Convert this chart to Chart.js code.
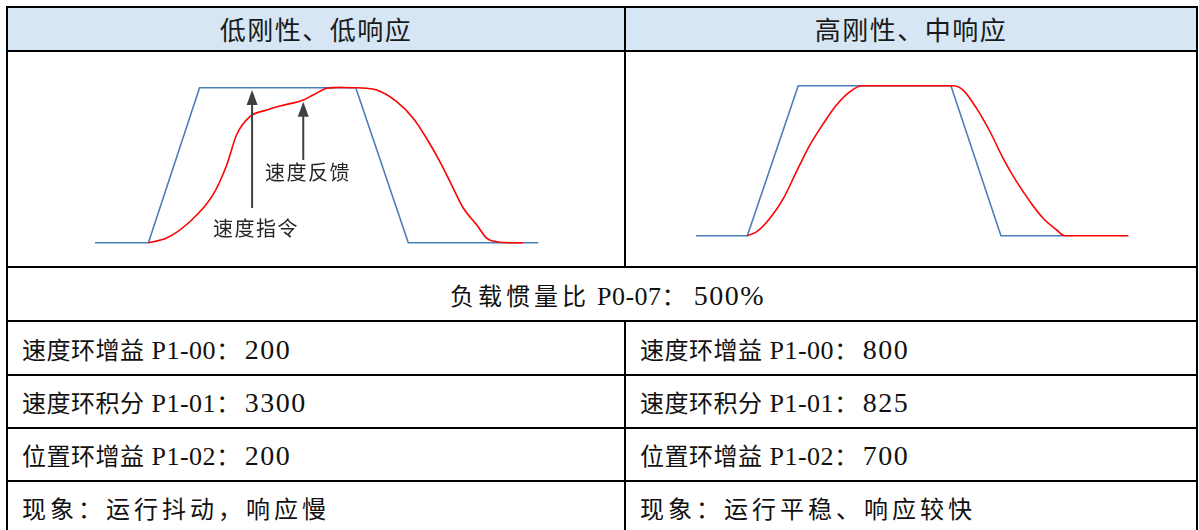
<!DOCTYPE html>
<html><head><meta charset="utf-8">
<script src="https://cdn.jsdelivr.net/npm/chart.js@4/dist/chart.umd.min.js"></script>
<style>
html,body{margin:0;padding:0;background:#fff;}
body{width:1199px;height:530px;position:relative;overflow:hidden;}
.ln{position:absolute;background:#000;}
.cell{position:absolute;box-sizing:border-box;white-space:pre;}
.hd{display:flex;align-items:center;background:#D6E6F4;justify-content:center;font-family:"Noto Sans CJK SC",sans-serif;font-size:26px;letter-spacing:1.5px;color:#1a1a1a;}
.tx{font-family:"Noto Sans CJK SC",sans-serif;font-size:24px;letter-spacing:0.5px;color:#111;}
.code{font-family:"Liberation Serif","Times New Roman",serif;font-size:26px;letter-spacing:0.5px;}
.val{font-family:"Liberation Serif","Times New Roman",serif;font-size:28px;letter-spacing:1.5px;margin-left:4px;}
canvas{position:absolute;}
</style></head><body>
<div id="root"></div>
<script>
// ---- table texts ----
const headers = ['低刚性、低响应', '高刚性、中响应'];
const sharedRow = '负载惯量比 P0-07：500%';
const leftRows = ['速度环增益 P1-00：200', '速度环积分 P1-01：3300', '位置环增益 P1-02：200', '现象：运行抖动，响应慢'];
const rightRows = ['速度环增益 P1-00：800', '速度环积分 P1-01：825', '位置环增益 P1-02：700', '现象：运行平稳、响应较快'];

// ---- left chart (low stiffness) : time (%), speed (%) ----
const leftCmdT = [0, 12, 23.5, 58.6, 70.4, 99.6];
const leftCmdV = [0, 0, 100, 100, 0, 0];
const leftFbT = [12, 16.1, 21.3, 26.5, 29.6, 31.8, 34.8, 38.6, 41.6, 46.8, 49, 52.1, 55.1, 58.8, 63.3, 67.8, 71.5, 74.5, 77.5, 80.5, 82.8, 85.8, 88, 90.3, 93.9, 96.2];
const leftFbV = [0, 3, 13.5, 30.8, 50.1, 69.5, 81.3, 85.6, 88.2, 92.1, 95.3, 99.6, 100.3, 100, 98.5, 91, 80.3, 67.4, 52.3, 35.1, 22.2, 11.4, 3, 0.6, 0, 0];
const leftLabels = ['速度指令', '速度反馈'];
const leftLabelT = [26.5, 38.2];
const leftLabelV = [9.5, 45.6];
const leftArrowT = [35.3, 46.8];
const leftArrowFromV = [22.4, 53.4];
const leftArrowToV = [98.5, 91];

// ---- right chart (high stiffness) ----
const rightCmdT = [0, 11.8, 23.5, 58.6, 70.1, 84.8];
const rightCmdV = [0, 0, 100, 100, 0, 0];
const rightFbT = [11.8, 14, 17, 20.1, 23.1, 26.2, 29.3, 32.3, 35.4, 38.1, 59.1, 61.4, 64.5, 67.6, 70.6, 73.7, 76.8, 79.8, 82.9, 84.8, 99.4];
const rightFbV = [0, 2.7, 11.6, 24.9, 42.7, 60.5, 74.9, 87.1, 96, 100, 100, 97.1, 84.9, 69.3, 51.6, 36, 22.7, 11.6, 3.8, 0, 0];

const root = document.getElementById('root');
function line(l, t, w, h) { const d = document.createElement('div'); d.className = 'ln'; Object.assign(d.style, {left: l+'px', top: t+'px', width: w+'px', height: h+'px'}); root.appendChild(d); }
function fillText(d, text) {
  text.split(/([\x20-\x7E]+)/).forEach((part, i) => {
    if (!part) return;
    if (i % 2 === 1) { const s = document.createElement('span'); s.className = /^\s*P/.test(part) ? 'code' : 'val'; s.textContent = part; d.appendChild(s); }
    else d.appendChild(document.createTextNode(part));
  });
}
function cell(cls, l, t, w, h, text, extra) {
  const d = document.createElement('div'); d.className = 'cell ' + cls;
  Object.assign(d.style, {left: l+'px', top: t+'px', width: w+'px', height: h+'px', lineHeight: h+'px'}, extra || {});
  if (cls === 'hd') d.textContent = text; else fillText(d, text);
  root.appendChild(d);
}

// header
cell('hd', 7, 7, 618, 44, headers[0]);
cell('hd', 625, 7, 572, 44, headers[1]);
cell('tx', 7, 268, 1190, 53, sharedRow, {paddingLeft: '443px', letterSpacing: '4px'});
const rowTops = [322, 375, 428, 481];
for (let i = 0; i < leftRows.length; i++) {
  const ex = i === 3 ? {letterSpacing: '4px'} : {};
  cell('tx', 7, rowTops[i], 617, 53, leftRows[i], Object.assign({paddingLeft: '15px'}, ex));
  cell('tx', 625, rowTops[i], 572, 53, rightRows[i], Object.assign({paddingLeft: '15px'}, ex));
}
// borders
line(6, 6, 1192, 2);
line(6, 50, 1192, 2);
line(6, 266, 1192, 2);
[320, 374, 427, 480].forEach(y => line(6, y, 1192, 2));
line(6, 6, 2, 530);
line(1196, 6, 2, 530);
line(624, 6, 2, 262);
line(624, 320, 2, 220);

function mkCanvas(l, t, w, h) { const c = document.createElement('canvas'); c.width = w; c.height = h; c.style.left = l+'px'; c.style.top = t+'px'; c.style.width = w+'px'; c.style.height = h+'px'; root.appendChild(c); return c; }
function pts(ts, vs) { return ts.map((t, i) => ({x: t, y: vs[i]})); }

const arrowPlugin = {
  id: 'arrows',
  afterDatasetsDraw(chart, args, opts) {
    if (!opts.labels) return;
    const ctx = chart.ctx, xs = chart.scales.x, ys = chart.scales.y;
    ctx.save();
    ctx.strokeStyle = '#404040'; ctx.fillStyle = '#404040'; ctx.lineWidth = 2;
    opts.arrowT.forEach((t, i) => {
      const x = xs.getPixelForValue(t), y0 = ys.getPixelForValue(opts.fromV[i]), y1 = ys.getPixelForValue(opts.toV[i]);
      ctx.beginPath(); ctx.moveTo(x, y0); ctx.lineTo(x, y1 + 12); ctx.stroke();
      ctx.beginPath(); ctx.moveTo(x, y1); ctx.lineTo(x - 5.5, y1 + 15); ctx.lineTo(x + 5.5, y1 + 15); ctx.closePath(); ctx.fill();
    });
    ctx.fillStyle = '#262626'; ctx.font = '20px "Noto Sans CJK SC"'; ctx.textBaseline = 'middle'; ctx.textAlign = 'left';
    opts.labels.forEach((s, i) => {
      const x = xs.getPixelForValue(opts.labelT[i]), y = ys.getPixelForValue(opts.labelV[i]);
      if (ctx.letterSpacing !== undefined) ctx.letterSpacing = '1.5px';
      ctx.fillText(s, x, y);
    });
    ctx.restore();
  }
};

function makeChart(canvas, cmd, fb, pad, ann) {
  return new Chart(canvas, {
    type: 'line',
    data: {
      datasets: [
        {data: fb, borderColor: '#FF0000', borderWidth: 1.6, pointRadius: 0, cubicInterpolationMode: 'monotone', clip: false, fill: false},
        {data: cmd, borderColor: '#4A7EBB', borderWidth: 1.6, pointRadius: 0, tension: 0, clip: false, fill: false}
      ]
    },
    options: {
      responsive: false, animation: false, devicePixelRatio: 1,
      layout: {padding: pad},
      scales: {
        x: {type: 'linear', min: 0, max: 100, display: false},
        y: {type: 'linear', min: 0, max: 100, display: false}
      },
      plugins: {legend: {display: false}, tooltip: {enabled: false}, arrows: ann || {}}
    },
    plugins: [arrowPlugin]
  });
}

document.fonts.load('20px "Noto Sans CJK SC"').finally(() => {
  const c1 = mkCanvas(8, 52, 616, 214);
  makeChart(c1, pts(leftCmdT, leftCmdV), pts(leftFbT, leftFbV),
    {left: 87, right: 84, top: 35.7, bottom: 23.3},
    {labels: leftLabels, labelT: leftLabelT, labelV: leftLabelV, arrowT: leftArrowT, fromV: leftArrowFromV, toV: leftArrowToV});
  const c2 = mkCanvas(626, 52, 570, 214);
  makeChart(c2, pts(rightCmdT, rightCmdV), pts(rightFbT, rightFbV),
    {left: 70, right: 65, top: 33.7, bottom: 30.3});
});
</script>
</body></html>
